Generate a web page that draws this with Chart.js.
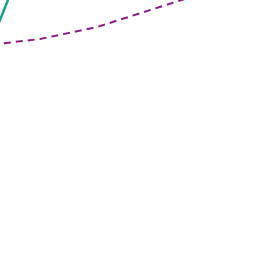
<!DOCTYPE html>
<html>
<head>
<meta charset="utf-8">
<script src="https://cdn.jsdelivr.net/npm/chart.js@4"></script>
<style>
  html, body { margin: 0; padding: 0; background: #fff; }
  canvas { display: block; }
</style>
</head>
<body>
<canvas id="chart" width="256" height="256"></canvas>
<script>
// values (view window is 0..256 on both axes)
const dashedX = [-20, 40, 97, 210];
const dashedY = [210, 217, 229, 265];

const solidX = [-4, 12];
const solidY = [226, 266];

const toPoints = (xs, ys) => xs.map((x, i) => ({ x: x, y: ys[i] }));

new Chart(document.getElementById('chart'), {
  type: 'scatter',
  data: {
    datasets: [
      {
        label: 'solid',
        data: toPoints(solidX, solidY),
        showLine: true,
        borderColor: '#1b9e8a',
        borderWidth: 2.5,
        pointRadius: 0,
        fill: false
      },
      {
        label: 'dashed',
        data: toPoints(dashedX, dashedY),
        showLine: true,
        borderColor: '#8c1a80',
        borderWidth: 2,
        borderDash: [7, 5],
        pointRadius: 0,
        fill: false
      }
    ]
  },
  options: {
    responsive: false,
    animation: false,
    layout: { padding: 0 },
    plugins: { legend: { display: false }, tooltip: { enabled: false } },
    scales: {
      x: { type: 'linear', min: 0, max: 256, display: false },
      y: { type: 'linear', min: 0, max: 256, display: false }
    }
  }
});
</script>
</body>
</html>
